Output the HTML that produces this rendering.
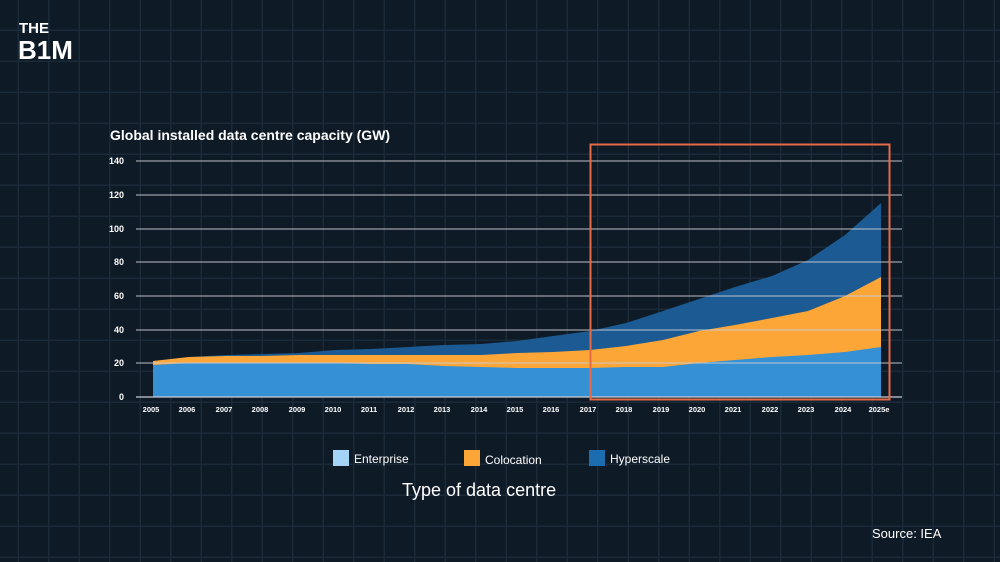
<!DOCTYPE html>
<html><head><meta charset="utf-8"><style>
html,body{margin:0;padding:0}
body{width:1000px;height:562px;overflow:hidden;background-color:#0e1a26;
background-image:repeating-linear-gradient(90deg,transparent 0,transparent 17.5px,#1a2a39 17.5px,#1a2a39 19px,transparent 19px,transparent 30.5px),
repeating-linear-gradient(180deg,transparent 0,transparent 29.5px,#1a2a39 29.5px,#1a2a39 31px);
font-family:"Liberation Sans",sans-serif;position:relative}
</style></head><body>
<svg width="1000" height="562" style="position:absolute;left:0;top:0" font-family="Liberation Sans, sans-serif">
<text x="19" y="33" fill="#fff" font-size="15" font-weight="bold">THE</text>
<text x="18" y="59" fill="#fff" font-size="26" font-weight="bold" letter-spacing="0">B1M</text>
<text x="110" y="140" fill="#fff" font-size="14" font-weight="bold">Global installed data centre capacity (GW)</text>
<polygon fill="#1b5a92" points="153,397 153,361 189,357 226,355 262,354 299,353 335,350 371,349 408,347 444,345 481,344 517,341 553,336 590,331 626,323 663,311 699,299 735,287 772,276 808,260 845,235 881,203 881,397"/>
<polygon fill="#fca638" points="153,397 153,361 189,357 226,356 262,356 299,355 335,355 371,355 408,355 444,355 481,355 517,353 553,352 590,350 626,346 663,340 699,331 735,325 772,318 808,311 845,296 881,277 881,397"/>
<polygon fill="#3690d4" points="153,397 153,365 189,363 226,363 262,363 299,363 335,363 371,364 408,364 444,366 481,367 517,368 553,368 590,368 626,367 663,367 699,363 735,360 772,357 808,355 845,352 881,347 881,397"/>
<g stroke="#c9ccd3" stroke-width="1.2" opacity="0.75">
<line x1="136" x2="902" y1="161" y2="161"/><line x1="136" x2="902" y1="195" y2="195"/>
<line x1="136" x2="902" y1="229" y2="229"/><line x1="136" x2="902" y1="262" y2="262"/>
<line x1="136" x2="902" y1="296" y2="296"/><line x1="136" x2="902" y1="330" y2="330"/>
<line x1="136" x2="902" y1="363" y2="363"/>
</g>
<g fill="#fff" font-size="9" font-weight="bold" text-anchor="end">
<text x="124" y="164">140</text><text x="124" y="198">120</text><text x="124" y="232">100</text>
<text x="124" y="265">80</text><text x="124" y="299">60</text><text x="124" y="333">40</text>
<text x="124" y="366">20</text><text x="124" y="400">0</text>
</g>
<line x1="136" x2="902" y1="397" y2="397" stroke="#c9ccd3" stroke-width="1.3"/>
<g fill="#fff" font-size="7.5" font-weight="bold" text-anchor="middle">
<text x="151" y="412">2005</text><text x="187" y="412">2006</text><text x="224" y="412">2007</text>
<text x="260" y="412">2008</text><text x="297" y="412">2009</text><text x="333" y="412">2010</text>
<text x="369" y="412">2011</text><text x="406" y="412">2012</text><text x="442" y="412">2013</text>
<text x="479" y="412">2014</text><text x="515" y="412">2015</text><text x="551" y="412">2016</text>
<text x="588" y="412">2017</text><text x="624" y="412">2018</text><text x="661" y="412">2019</text>
<text x="697" y="412">2020</text><text x="733" y="412">2021</text><text x="770" y="412">2022</text>
<text x="806" y="412">2023</text><text x="843" y="412">2024</text><text x="879" y="412">2025e</text>
</g>
<rect x="590.5" y="144.5" width="299" height="255" fill="none" stroke="#e56a45" stroke-width="2"/>
<rect x="333" y="450" width="16" height="16" fill="#a4d4f5"/>
<text x="354" y="463" fill="#fff" font-size="12">Enterprise</text>
<rect x="464" y="450" width="16" height="16" fill="#fca638"/>
<text x="485" y="464" fill="#fff" font-size="12">Colocation</text>
<rect x="589" y="450" width="16" height="16" fill="#1b6db0"/>
<text x="610" y="463" fill="#fff" font-size="12">Hyperscale</text>
<text x="402" y="496" fill="#fff" font-size="18">Type of data centre</text>
<text x="872" y="538" fill="#fff" font-size="13">Source: IEA</text>
</svg>
</body></html>
